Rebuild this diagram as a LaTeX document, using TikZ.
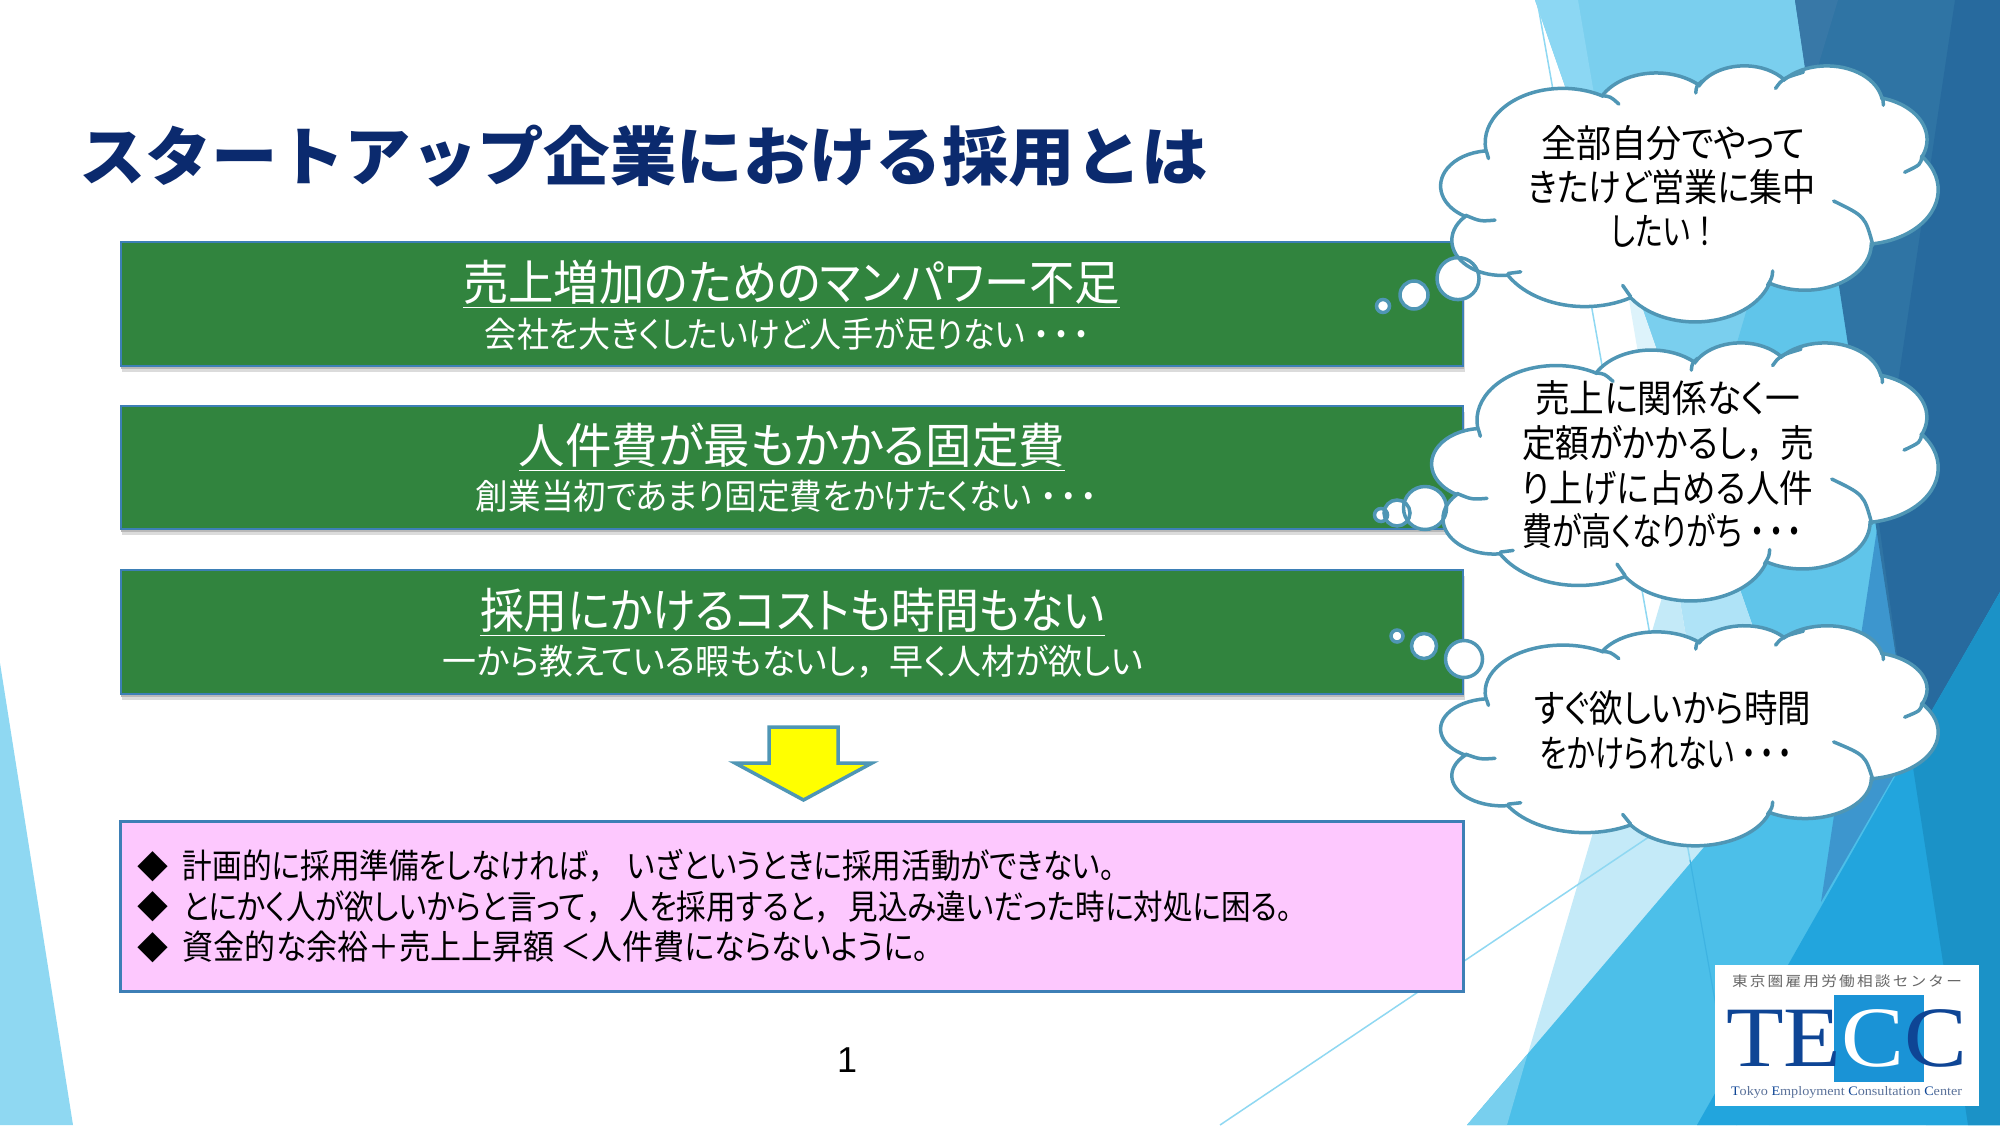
\documentclass[tikz,border=0pt]{standalone}
\usepackage{graphicx}
\usepackage{fontspec}
\setmainfont{Noto Sans CJK JP}[RawFeature=+palt]
\newfontfamily\fw{Noto Sans CJK JP}
\newfontfamily\fwspaced{Noto Sans CJK JP}[LetterSpace=14]
\newfontfamily\serifl{Liberation Serif}
\newfontfamily\sansl{Liberation Sans}
\definecolor{navy}{HTML}{0B2A6E}
\definecolor{boxgreen}{HTML}{31843E}
\definecolor{boxedge}{HTML}{3D7FB6}
\definecolor{cloudedge}{HTML}{4F96B5}
\definecolor{pinkfill}{HTML}{FDC8FE}
\definecolor{thinline}{HTML}{8FD8F2}
\definecolor{logoblue}{HTML}{1A93D6}
\definecolor{logonavy}{HTML}{0E4595}
\definecolor{logotint}{HTML}{5A7199}
\definecolor{arrowfill}{HTML}{FFFF00}
\newcommand\tdots{{\fw ・\kern-.38em・\kern-.38em・}}
\newcommand\tcomma{{\fw ，}}
\tikzset{
  textline/.style={inner sep=0pt,anchor=base},
  panel/.style={fill=boxgreen,draw=boxedge,line width=1pt},
  notepanel/.style={fill=pinkfill,draw=boxedge,line width=1.5pt},
  cloudline/.style={draw=cloudedge,line width=1.75pt,line cap=round},
  oarc/.code n args={4}{%
    \pgfmathsetmacro\tA{atan2(#1*sin(#3),#2*cos(#3))}%
    \pgfmathsetmacro\tB{atan2(#1*sin(#3+#4),#2*cos(#3+#4))}%
    \pgfmathsetmacro\tD{\tB-\tA}%
    \pgfmathsetmacro\tD{\tD<0?\tD+360:\tD}%
    \tikzset{x radius=#1pt,y radius=#2pt,start angle=\tA,delta angle=\tD}},
}
\def\cloudpath{(39pt,143.7pt)
  arc[oarc={67.53}{91.90}{-190.4875}{123.7805}]
  arc[oarc={53.33}{72.67}{-144.1024}{89.9452}]
  arc[oarc={43.65}{59.45}{-145.8079}{99.7230}]
  arc[oarc={48.57}{65.95}{-130.9861}{117.2417}]
  arc[oarc={53.33}{72.73}{-78.7089}{109.0269}]
  arc[oarc={67.75}{92.20}{-46.2673}{130.2690}]
  arc[oarc={57.85}{78.67}{0.6250}{114.0333}]
  arc[oarc={67.52}{92.15}{22.4516}{115.1726}]
  arc[oarc={77.20}{105.43}{66.2426}{75.7110}]
  arc[oarc={43.60}{59.18}{-274.9421}{146.7356}]
  arc[oarc={43.45}{59.45}{-246.8285}{152.5189}]
  -- cycle}
% x0,y0,W,H of the cloud in pixels; list of bubbles x/y/r
\newcommand\thought[5]{%
  \pgfmathsetmacro\ca{#3*0.5/432}\pgfmathsetmacro\cd{-#4*0.5/432}%
  \begin{scope}[cm={\ca,0,0,\cd,(#1,#2)}]
    \fill[white] \cloudpath;
  \end{scope}
  \foreach \bx/\by/\rr in {#5}{\fill[white] (\bx,\by) circle[radius={\rr*0.5pt}];}
  \begin{scope}[cm={\ca,0,0,\cd,(#1,#2)}]
    \draw[cloudline] \cloudpath;
    \draw[cloudline] (46.93pt,261.77pt) .. controls (34pt,263.9pt) .. (21.3pt,253.5pt);
    \draw[cloudline] (69.28pt,348.99pt) .. controls (64pt,351.8pt) .. (58.3pt,351.8pt);
    \draw[cloudline] (164.78pt,390.9pt) .. controls (160.6pt,381.6pt) .. (157.9pt,371.9pt);
    \draw[cloudline] (288.27pt,347.51pt) .. controls (287.8pt,358.9pt) .. (283.8pt,371.9pt);
    \draw[cloudline] (341.29pt,229.54pt) .. controls (368.7pt,255.4pt) .. (375.4pt,304pt);
    \draw[cloudline] (417.98pt,153.54pt) .. controls (417pt,168pt) .. (403pt,181pt);
    \draw[cloudline] (383.24pt,54.26pt) .. controls (384.4pt,59.5pt) .. (384.4pt,67.9pt);
    \draw[cloudline] (290.78pt,39.52pt) .. controls (297pt,22.6pt) .. (315pt,12pt);
    \draw[cloudline] (221.41pt,47.2pt) .. controls (222pt,35.6pt) .. (227pt,27pt);
    \draw[cloudline] (140pt,51.92pt) .. controls (147.2pt,53pt) .. (154.6pt,66pt);
    \draw[cloudline] (41.27pt,157.89pt) .. controls (40pt,148.7pt) .. (39pt,143.6pt);
  \end{scope}
  \foreach \bx/\by/\rr in {#5}{\draw[cloudline] (\bx,\by) circle[radius={\rr*0.5pt}];}
}
% [colour]{name}{x1}{x2}{y centre}{size pt}{text}
\newcommand\tl[6][black]{%
  \pgfmathsetmacro\tlw{(#4-#3)/2}\pgfmathsetmacro\tlx{(#4+#3)/2}\pgfmathsetmacro\tly{#5+.76*#6}%
  \tlbody{#1}{#2}{#6}}
\newcommand\tlbody[4]{%
  \node[textline,text=#1] (#2) at (\tlx,\tly) {\resizebox{\tlw pt}{\height}{\fontsize{#3pt}{#3pt}\selectfont #4}};}
\begin{document}
\begin{tikzpicture}[x=0.5pt,y=-0.5pt]
\useasboundingbox (0,0) rectangle (2000,1125);
\fill[white] (0,0) rectangle (2000,1125);
% left facet
\fill[fill=thinline] (0,663) -- (73,1125) -- (0,1125) -- cycle;
% right facets
\fill[color={rgb,255:red,122;green,207;blue,238}] (1535,0) -- (2000,0) -- (2000,1125) -- (1926,1125) -- cycle;
\fill[color={rgb,255:red,140;green,215;blue,243}] (1535,0) -- (1578,0) -- (1619,241) -- cycle;
\fill[color={rgb,255:red,221;green,243;blue,251}] (1619,241) -- (1926,1125) -- (1769,1125) -- cycle;
\fill[color={rgb,255:red,96;green,197;blue,234}] (1838,0) -- (2000,0) -- (2000,1125) -- (1926,1125) -- (1699,471.5) -- cycle;
\fill[color={rgb,255:red,175;green,227;blue,247}] (1699,471.5) -- (1926,1125) -- (1769,1125) -- (1673,560) -- cycle;
\fill[color={rgb,255:red,196;green,234;blue,248}] (1673,560) -- (1769,1125) -- (1507,1125) -- cycle;
% thin lines
\draw[thinline,line width=.75pt] (1537,0) -- (1690,860);
\draw[thinline,line width=.75pt] (1220,1125) -- (1680,816);
% large lower triangle
\fill[color={rgb,255:red,76;green,191;blue,233}] (1467,1125) -- (2000,500) -- (2000,1125) -- cycle;
\fill[color={rgb,255:red,120;green,207;blue,238}] (1467,1125) -- (1527.6,1054) -- (1507,1125) -- cycle;
\draw[color={rgb,255:red,62;green,179;blue,226},line width=.6pt] (1690,860) -- (1737,1125);
% mid blue
\fill[color={rgb,255:red,61;green,150;blue,206}] (1878,522) -- (2000,522) -- (2000,592) -- (1821,902) -- cycle;
% dark
\fill[color={rgb,255:red,47;green,116;blue,164}] (1795,0) -- (2000,0) -- (2000,592) -- (1910,748) -- cycle;
\fill[color={rgb,255:red,56;green,120;blue,167}] (1795,0) -- (1838,0) -- (1809,96) -- cycle;
\fill[color={rgb,255:red,39;green,106;blue,158}] (1955,0) -- (2000,0) -- (2000,592) -- (1910,748) -- (1878,516) -- cycle;
% bottom right
\fill[color={rgb,255:red,34;green,165;blue,221}] (2000,592) -- (1697,1125) -- (2000,1125) -- cycle;
\fill[color={rgb,255:red,27;green,146;blue,199}] (2000,592) -- (1910,748) -- (1968,1125) -- (2000,1125) -- cycle;

% title
\tl[navy]{title}{79}{1208}{156}{32}{\fw\bfseries スタートアップ企業における採用とは}

% green panels
\foreach \ya/\yb in {242/366,406/529,570/694}{
  \fill[black!14] (122,\ya+6) rectangle (1465,\yb+6);
  \fill[black!28] (121,\ya+4) rectangle (1464,\yb+3);
  \path[panel] (120.5,\ya) rectangle (1463,\yb);
}
\tl[white]{headA}{463}{1120}{282}{24}{\underline{売上増加のためのマンパワー不足}}
\tl[white]{subA}{485}{1097}{334}{17.5}{会社を大きくしたいけど人手が足りない\tdots}
\tl[white]{headB}{519}{1065}{445}{24}{\underline{人件費が最もかかる固定費}}
\tl[white]{subB}{476}{1105}{496}{17.5}{創業当初であまり固定費をかけたくない\tdots}
\tl[white]{headC}{480}{1105}{610}{24}{\underline{採用にかけるコストも時間もない}}
\tl[white]{subC}{443}{1143}{661}{17.5}{一から教えている暇もないし\tcomma 早く人材が欲しい}

% arrow
\draw[fill=arrowfill,draw=cloudedge,line width=1.75pt,line join=miter]
  (769,727) -- (838,727) -- (838,763) -- (872,763) -- (803.5,800) -- (735,763) -- (769,763) -- cycle;

% note panel
\path[notepanel] (120.5,821) rectangle (1463,991);
\node[textline,anchor=center] (bulA) at (152.5,867) {\fontsize{15.5pt}{15.5pt}\selectfont\fw ◆};
\node[textline,anchor=center] (bulB) at (152.5,907) {\fontsize{15.5pt}{15.5pt}\selectfont\fw ◆};
\node[textline,anchor=center] (bulC) at (152.5,948) {\fontsize{15.5pt}{15.5pt}\selectfont\fw ◆};
\tl{noteA}{183}{1115}{866}{17}{計画的に採用準備をしなければ\tcomma\hspace{.3em}いざというときに採用活動ができない。}
\tl{noteB}{183}{1292}{907}{17}{とにかく人が欲しいからと言って\tcomma\hspace{.15em}人を採用すると\tcomma\hspace{.15em}見込み違いだった時に対処に困る。}
\tl{noteC}{183}{929}{947}{17}{資金的な余裕{\fw ＋}売上上昇額\hspace{.2em}{\fw ＜}人件費にならないように。}

% clouds
\thought{1441}{65}{497}{256}{1458/278.6/21,1414/295/14,1383/306/6.5}
\thought{1432}{342}{506}{258}{1425/508/21.5,1397/513/13,1381/515/6.5}
\thought{1441}{625}{497}{220}{1464/659/18.5,1424/646/12.5,1397/636/6}

\tl{cloudAa}{1541}{1805}{143}{19}{全部自分でやって}
\tl{cloudAb}{1528}{1816}{187.5}{19}{きたけど営業に集中}
\tl{cloudAc}{1611}{1720}{231.5}{19}{したい{\fw ！}}
\tl{cloudBa}{1535}{1800}{398}{19}{売上に関係なく一}
\tl{cloudBb}{1522}{1814}{443}{19}{定額がかかるし\tcomma 売}
\tl{cloudBc}{1522}{1813}{488}{19}{り上げに占める人件}
\tl{cloudBd}{1522}{1810}{531}{19}{費が高くなりがち\tdots}
\tl{cloudCa}{1534}{1811}{708}{19}{すぐ欲しいから時間}
\tl{cloudCb}{1540}{1800}{753}{19}{をかけられない\tdots}

% page number
\node[textline,anchor=center] (pagenum) at (847,1060) {\sansl\fontsize{18pt}{18pt}\selectfont 1};

% logo
\fill[white] (1715,965) rectangle (1979,1106);
\fill[logoblue] (1834,995) rectangle (1924,1082);
\tl[black!60]{logoJa}{1732}{1962}{981}{7}{\fwspaced 東京圏雇用労働相談センター}
\tl[logonavy]{logoTecc}{1726}{1967}{1034}{43}{\serifl TE{\color{white}C}C}
\tl[logotint]{logoEn}{1731}{1962}{1091}{6.5}{\serifl {\color{logonavy}T}okyo {\color{logonavy}E}mployment {\color{logonavy}C}onsultation {\color{logonavy}C}enter}
\end{tikzpicture}
\end{document}
